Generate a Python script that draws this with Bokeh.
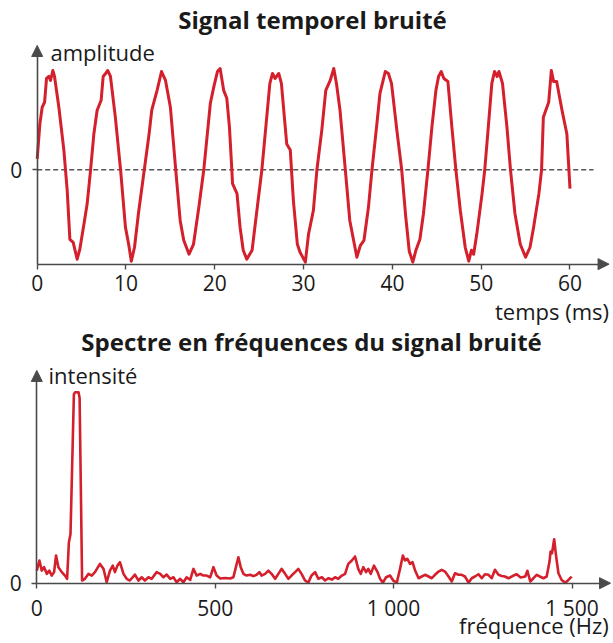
from bokeh.plotting import figure
from bokeh.layouts import column
from bokeh.models import Arrow, NormalHead, Label, FixedTicker, Range1d
from bokeh.embed import file_html
from bokeh.resources import INLINE

# ---------------- data ----------------
TITLE_TOP = "Signal temporel bruité"
TITLE_BOTTOM = "Spectre en fréquences du signal bruité"
Y_LABEL_TOP = "amplitude"
X_LABEL_TOP = "temps (ms)"
Y_LABEL_BOTTOM = "intensité"
X_LABEL_BOTTOM = "fréquence (Hz)"

TIME_TICKS = [0, 10, 20, 30, 40, 50, 60]
FREQ_TICKS = [0, 500, 1000, 1500]
FREQ_TICK_LABELS = {0: "0", 500: "500", 1000: "1 000", 1500: "1 500"}

# noisy time signal (ms, arbitrary amplitude)
time_ms = [
    0, 0.3, 0.56, 0.83, 1.05, 1.31, 1.5, 1.76, 1.95, 2.44, 3.0, 3.38, 3.68, 4.05, 4.5, 4.8,
    5.33, 5.63, 6.0, 6.38, 6.75, 7.2, 7.43, 7.7, 7.95, 8.25, 8.8, 9.4, 9.94, 10.3, 10.6, 10.96,
    11.4, 12.0, 12.6, 12.9, 13.5, 14.0, 14.45, 15.0, 15.6, 16.1, 16.5, 17.1, 17.6, 18.2, 18.76,
    19.5, 19.9, 20.3, 20.6, 21.0, 21.35, 21.65, 21.9, 22.0, 22.5, 22.85, 23.2, 23.6, 24.2, 24.7,
    25.3, 25.85, 26.2, 26.5, 26.8, 27.2, 27.5, 28.1, 28.5, 28.85, 29.3, 29.6, 30.2, 30.55, 31.1,
    31.5, 32.05, 32.5, 33.0, 33.4, 33.7, 34.1, 34.7, 35.2, 36.0, 36.4, 36.8, 37.3, 37.7, 38.25,
    38.6, 39.2, 39.55, 39.9, 40.5, 41.05, 41.5, 41.9, 42.3, 42.65, 43.1, 43.5, 44.0, 44.45, 44.9,
    45.2, 45.5, 45.8, 46.25, 46.7, 47.15, 47.65, 48.2, 48.6, 48.9, 49.15, 49.5, 50.1, 50.4, 50.8,
    51.2, 51.5, 51.8, 52.0, 52.4, 52.9, 53.3, 53.8, 54.4, 55.0, 55.5, 55.9, 56.5, 56.8, 57.0,
    57.6, 57.9, 58.15, 58.5, 59.1, 59.65, 60.0,
]
amplitude = [
    0.11, 0.46, 0.63, 0.68, 0.92, 0.94, 0.9, 1.0, 0.94, 0.63, 0.2, -0.21, -0.70, -0.73, -0.90, -0.80,
    -0.51, -0.34, -0.01, 0.36, 0.6, 0.70, 0.94, 0.97, 1.0, 0.94, 0.53, -0.01, -0.58, -0.75, -0.92, -0.78,
    -0.44, -0.04, 0.36, 0.6, 0.80, 0.99, 0.9, 0.63, 0.0, -0.51, -0.71, -0.85, -0.75, -0.38, 0.0,
    0.67, 0.84, 0.99, 1.02, 0.8, 0.72, 0.43, 0.03, -0.14, -0.24, -0.58, -0.81, -0.9, -0.81, -0.44,
    0.0, 0.53, 0.87, 0.97, 0.92, 0.97, 0.87, 0.26, 0.2, -0.31, -0.75, -0.83, -0.93, -0.65, -0.41,
    0.0, 0.4, 0.80, 0.9, 1.02, 0.87, 0.6, 0.0, -0.51, -0.88, -0.76, -0.71, -0.38, 0.0, 0.46,
    0.77, 0.99, 0.97, 0.87, 0.4, 0.0, -0.47, -0.82, -0.93, -0.81, -0.7, -0.44, 0.0, 0.43, 0.8,
    0.94, 0.99, 0.92, 0.89, 0.43, 0.0, -0.41, -0.78, -0.92, -0.81, -0.85, -0.65, -0.24, 0.0, 0.43,
    0.87, 0.99, 0.94, 0.99, 0.87, 0.43, 0.0, -0.44, -0.75, -0.88, -0.78, -0.58, -0.24, 0.0, 0.53,
    0.68, 1.0, 0.89, 0.89, 0.6, 0.36, -0.19,
]

# spectrum (Hz, relative intensity)
freq_hz = [
    0, 7.4, 14, 20.4, 28, 35, 42, 48.5, 54, 60.6, 70, 79, 85, 90, 94.5, 104, 107.6, 117, 120, 127,
    135, 145, 154, 163, 177, 187, 196, 205, 213, 219, 226, 233, 243, 252, 261, 275, 285, 294, 303,
    313, 322, 336, 346, 355, 364, 374, 383, 392, 402, 411, 420, 430, 439, 448, 458, 467, 476, 486,
    495, 504, 514, 528, 542, 551, 558, 565, 571.6, 579, 588, 598, 607, 616, 624, 630, 640, 649,
    658, 668, 677, 686, 696, 705, 714, 724, 733, 742, 752, 761, 770, 780, 789, 799, 808, 817, 827,
    836, 845, 855, 864, 873, 883, 892, 901, 908, 915, 923, 929, 936, 945, 955, 962, 970, 979, 990,
    999, 1009, 1018, 1026, 1032, 1038.6, 1046, 1053, 1060, 1070, 1079, 1088, 1098, 1107, 1116,
    1126, 1135, 1144, 1154, 1163, 1172, 1182, 1191, 1200, 1210, 1219, 1228, 1238, 1247, 1256,
    1266, 1275, 1284, 1294, 1303, 1312, 1322, 1336, 1345, 1356, 1369, 1375, 1383, 1392, 1401,
    1410, 1420, 1429, 1437, 1440, 1444, 1450, 1455, 1462, 1471, 1481, 1490, 1499,
]
intensity = [
    6.6, 11.9, 6.6, 8.4, 4.9, 6.6, 4.0, 5.8, 14.5, 8.4, 5.8, 4.0, 2.3, 21.5, 25.8, 99, 100, 100, 97, 1.4,
    2.3, 4.9, 4.0, 5.8, 10.1, 7.5, 0.5, 6.6, 9.2, 5.8, 9.2, 11, 4.9, 2.3, 1.4, 4.5, 1.4, 3.1, 1.4,
    3.1, 2.3, 5.8, 4.9, 3.1, 4.5, 2.3, 3.1, 0.5, 2.3, 0.5, 3.1, 1.7, 7.5, 4.0, 4.9, 4.0, 4.0, 3.1,
    8.4, 4.0, 2.5, 2.7, 2.5, 3.1, 8.4, 13.6, 8.4, 4.9, 4.0, 4.4, 3.7, 4.4, 5.8, 4.0, 4.9, 6.6,
    4.9, 2.3, 4.9, 7.5, 4.9, 2.3, 4.0, 5.8, 7.5, 4.9, 1.4, 0.3, 4.0, 5.8, 2.3, 3.1, 1.4, 2.6, 1.9,
    3.1, 2.3, 4.0, 4.9, 10.1, 11.9, 14.0, 7.5, 4.9, 8.4, 5.8, 7.5, 4.9, 9.2, 5.8, 2.3, 0.3, 3.1, 4.0,
    1.4, 0.3, 7.5, 14.5, 11.9, 12.7, 10.1, 11.0, 6.8, 2.6, 3.5, 4.4, 3.5, 2.6, 4.4,
    6.1, 7.0, 6.1, 3.5, 0.9, 5.2, 4.4, 4.4, 3.5, 0.3, 2.6, 3.5, 4.7, 2.6, 4.7,
    4.4, 2.6, 7.0, 4.4, 3.8, 3.5, 2.6, 4.0, 4.7, 3.0, 3.5, 6.5, 0.9, 2.6, 4.4,
    3.5, 2.6, 3.5, 11.3, 16.6, 15.7, 23.0, 14.8, 5.2, 1.7, 0.3, 1.7, 3.5,
]

# ---------------- style / geometry ----------------
FONT = "Open Sans"
AXIS_COLOR = "#4a4a4a"
TEXT_COLOR = "#1a1a1a"
RED = "#d41f2c"
W = 613
H_TOP = 326
H_BOTTOM = 643 - H_TOP

# top panel ranges (data units)
T_RANGE = (-4.133, 64.9)
A_RANGE = (-(H_TOP - 169.3) / 99.3, 169.3 / 99.3)
A_AXIS = -0.95          # where the time axis sits
A_TIP = 1.252           # tip of vertical arrow
T_TIP = 64.4            # tip of horizontal arrow
T_DASH_END = 62.65

# bottom panel ranges
F_RANGE = (-101.7, 1616.3)
I_RANGE = (-(643 - 582.7) / 1.91, (582.7 - H_TOP) / 1.91)
I_TIP = 111.4
F_TIP = 1608.0


def style_axes(p, x_loc, y_loc, x_end, y_start, y_end):
    xa = p.xaxis[0]
    ya = p.yaxis[0]
    xa.fixed_location = x_loc
    ya.fixed_location = y_loc
    xa.bounds = (0, x_end)
    ya.bounds = (y_start, y_end)
    for ax in (xa, ya):
        ax.axis_line_color = AXIS_COLOR
        ax.axis_line_width = 1.6
        ax.major_tick_line_color = AXIS_COLOR
        ax.major_tick_line_width = 1.4
        ax.major_tick_in = 0
        ax.major_tick_out = 5
        ax.minor_tick_line_color = None
        ax.major_label_text_font = FONT
        ax.major_label_text_font_size = "21px"
        ax.major_label_text_color = TEXT_COLOR
    xa.major_label_standoff = 6
    ya.major_label_standoff = 10
    ya.ticker = FixedTicker(ticks=[0])


def add_arrows(p, x_axis_y, x_tip, y_tip, x_from, y_from):
    head = dict(size=11, fill_color=AXIS_COLOR, line_color=AXIS_COLOR, line_width=1)
    p.add_layout(Arrow(end=NormalHead(**head), x_start=x_from, y_start=x_axis_y,
                       x_end=x_tip, y_end=x_axis_y, line_color=AXIS_COLOR, line_width=1.6))
    p.add_layout(Arrow(end=NormalHead(**head), x_start=0, y_start=y_from,
                       x_end=0, y_end=y_tip, line_color=AXIS_COLOR, line_width=1.6))


def label(p, x, y, text, align="left", bold=False, size="22px"):
    p.add_layout(Label(x=x, y=y, text=text, text_align=align, text_baseline="alphabetic",
                       text_font=FONT, text_font_size=size, text_color=TEXT_COLOR,
                       text_font_style="bold" if bold else "normal"))


# ---------------- top figure ----------------
p1 = figure(width=W, height=H_TOP, x_range=Range1d(*T_RANGE), y_range=Range1d(*A_RANGE),
            output_backend="svg", toolbar_location=None, min_border=0)
p1.outline_line_color = None
p1.grid.visible = False
style_axes(p1, A_AXIS, 0, T_TIP - 1.0, A_AXIS, A_TIP - 0.1)
p1.xaxis[0].ticker = FixedTicker(ticks=TIME_TICKS)
add_arrows(p1, A_AXIS, T_TIP, A_TIP, T_TIP - 1.0, A_TIP - 0.1)

p1.line([0, T_DASH_END], [0, 0], line_color="#555555", line_width=1.5, line_dash="5 3")
p1.line(time_ms, amplitude, line_color=RED, line_width=3, line_join="round")

label(p1, 31.0, 1.513, TITLE_TOP, align="center", bold=True, size="24px")
label(p1, 1.5, 1.191, Y_LABEL_TOP)
label(p1, T_TIP, -1.42, X_LABEL_TOP, align="right")

# ---------------- bottom figure ----------------
p2 = figure(width=W, height=H_BOTTOM, x_range=Range1d(*F_RANGE), y_range=Range1d(*I_RANGE),
            output_backend="svg", toolbar_location=None, min_border=0)
p2.outline_line_color = None
p2.grid.visible = False
style_axes(p2, 0, 0, F_TIP - 30, 0, I_TIP - 5)
p2.xaxis[0].ticker = FixedTicker(ticks=FREQ_TICKS)
p2.xaxis[0].major_label_overrides = FREQ_TICK_LABELS
add_arrows(p2, 0, F_TIP, I_TIP, F_TIP - 30, I_TIP - 5)

p2.line(freq_hz, intensity, line_color=RED, line_width=2.6, line_join="round")

label(p2, 770, 126.5, TITLE_BOTTOM, align="center", bold=True, size="24px")
label(p2, 32.8, 108.9, Y_LABEL_BOTTOM)
label(p2, F_TIP - 5, -22.0, X_LABEL_BOTTOM, align="right")

layout = column(p1, p2, spacing=0)
open("out.html", "w").write(file_html(layout, INLINE))
